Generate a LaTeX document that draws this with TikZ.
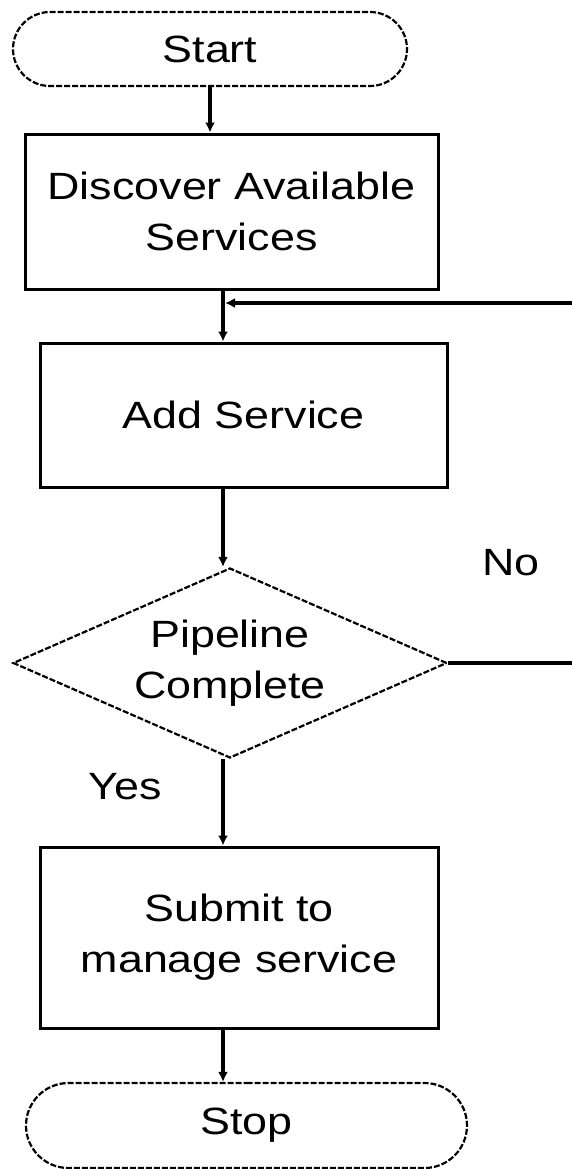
\documentclass[tikz,border=0pt]{standalone}
\usepackage{fontspec}
\setmainfont{Liberation Sans}[FakeStretch=1.18]
\usetikzlibrary{shapes.geometric,shapes.misc,arrows.meta}

\tikzset{
    terminal/.style={rounded rectangle, draw, line width=1.1pt, dash pattern=on 3pt off 1pt, inner sep=0pt},
    process/.style={rectangle, draw, line width=1.5pt, inner sep=0pt, align=center},
    decision/.style={diamond, draw, line width=1.1pt, dash pattern=on 3pt off 1pt, inner sep=0pt, aspect=2.28, align=center},
    flowline/.style={line width=2pt, -{Latex[length=5pt,width=5pt]}},
    plainline/.style={line width=2pt}
}

\begin{document}
\begin{tikzpicture}[x=0.5pt, y=-0.5pt, font=\fontsize{19}{25.5}\selectfont]
            \useasboundingbox[fill=white] (0,0) rectangle (572,1169);
            \node[terminal, minimum width=197pt, minimum height=37pt] (start) at (210,49) {Start};
            \node[process, minimum width=206.5pt, minimum height=77.5pt] (disc) at (231.5,211.5) {Discover Available\\Services};
            \node[process, minimum width=203.5pt, minimum height=72pt] (add) at (243.5,415) {Add Service};
            \node[decision, minimum width=217pt, minimum height=95pt] (dec) at (230,663) {Pipeline\\Complete};
            \node[process, minimum width=199pt, minimum height=90.5pt] (sub) at (239,937.5) {Submit to\\manage service};
            \node[terminal, minimum width=220.5pt, minimum height=42.5pt] (stop) at (246.5,1125.5) {Stop};
            \node (no) at (511,563) {No};
            \node (yes) at (125,787) {Yes};
            \coordinate (spine) at (223,0);
            \coordinate (fbR) at (572,303);
            \coordinate (fbJ) at (225,303);
            \draw[flowline] (start.south) -- (start.south |- disc.north);
            \draw[flowline] (disc.south -| spine) -- (add.north -| spine);
            \draw[flowline] (add.south -| spine) -- (dec.north -| spine);
            \draw[flowline] (dec.south -| spine) -- (sub.north -| spine);
            \draw[flowline] (sub.south -| spine) -- (stop.north -| spine);
            % loop back when the pipeline is not complete
            \draw[plainline] (dec.east) -- (dec.east -| fbR);
            \draw[flowline] (fbR) -- (fbJ);
        \end{tikzpicture}
\end{document}
